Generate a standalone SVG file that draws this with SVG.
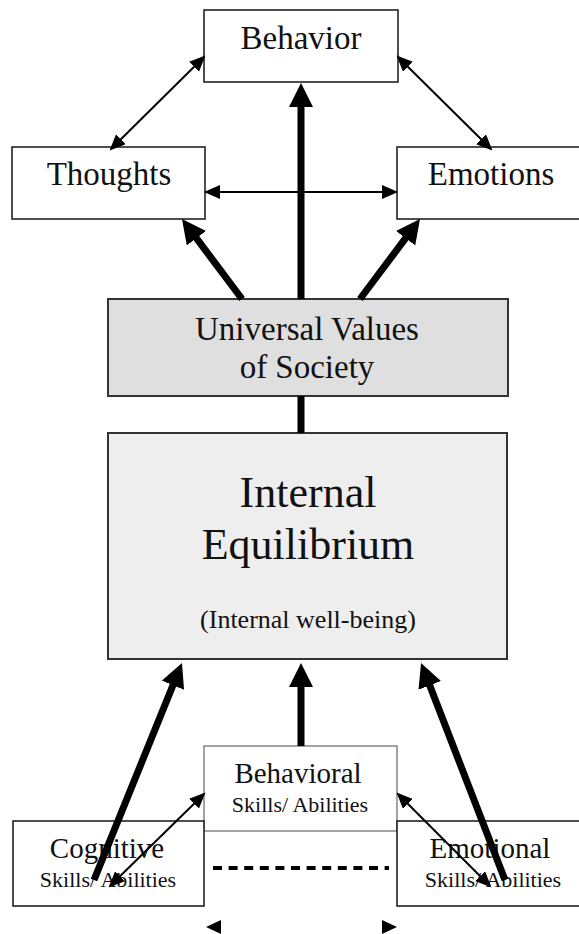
<svg xmlns="http://www.w3.org/2000/svg" width="579" height="934" viewBox="0 0 579 934">
<style>
text{font-family:"Liberation Serif","Times New Roman",serif;fill:#111;text-anchor:middle}
.box{fill:#fff;stroke:#222;stroke-width:1.6}
.grey{fill:#dfdfdf;stroke:#333;stroke-width:2}
.light{fill:#eeeeee;stroke:#333;stroke-width:2}
.soft{fill:#fff;stroke:#666;stroke-width:1.2}
.t33{font-size:33px}
.t44{font-size:44px}
.t26{font-size:26px}
.t29{font-size:29px}
.t22{font-size:22px}
.thick{stroke:#000;stroke-width:7;fill:none}
.thin{stroke:#000;stroke-width:2;fill:none}
</style>
<defs>
<marker id="big" markerUnits="userSpaceOnUse" markerWidth="26" markerHeight="26" refX="10" refY="12" orient="auto">
<path d="M0,0 L24,12 L0,24 Z" fill="#000"/>
</marker>
<marker id="small" markerUnits="userSpaceOnUse" markerWidth="18" markerHeight="16" refX="14" refY="7" orient="auto-start-reverse">
<path d="M0,0 L16,7 L0,14 Z" fill="#000"/>
</marker>
</defs>

<g id="behavior">
<rect class="box" x="204" y="10" width="194" height="72"/>
<text class="t33" x="301" y="49">Behavior</text>
</g>
<g id="thoughts">
<rect class="box" x="12" y="147" width="193" height="72"/>
<text class="t33" x="109" y="185">Thoughts</text>
</g>
<g id="emotions">
<rect class="box" x="397" y="147" width="190" height="72"/>
<text class="t33" x="491" y="185">Emotions</text>
</g>
<g id="universal-values">
<rect class="grey" x="108" y="299" width="400" height="97"/>
<text class="t33" x="307" y="340">Universal Values</text>
<text class="t33" x="307" y="378">of Society</text>
</g>
<g id="internal-equilibrium">
<rect class="light" x="108" y="433" width="399" height="226"/>
<text class="t44" x="308" y="507">Internal</text>
<text class="t44" x="308" y="559">Equilibrium</text>
<text class="t26" x="308" y="628">(Internal well-being)</text>
</g>
<g id="behavioral">
<rect class="soft" x="204" y="746" width="193" height="85"/>
<text class="t29" x="298" y="783">Behavioral</text>
<text class="t22" x="300" y="812">Skills/ Abilities</text>
</g>
<g id="cognitive">
<rect class="box" x="13" y="821" width="191" height="85" stroke-width="2"/>
<text class="t29" x="107" y="858">Cognitive</text>
<text class="t22" x="108" y="887">Skills/ Abilities</text>
</g>
<g id="emotional">
<rect class="box" x="397" y="821" width="190" height="85" stroke-width="2"/>
<text class="t29" x="490" y="858">Emotional</text>
<text class="t22" x="493" y="887">Skills/ Abilities</text>
</g>

<g id="connectors">
<line class="thin" x1="111" y1="149" x2="204" y2="57" marker-start="url(#small)" marker-end="url(#small)"/>
<line class="thin" x1="398" y1="57" x2="491" y2="149" marker-start="url(#small)" marker-end="url(#small)"/>
<line class="thin" x1="206" y1="192" x2="396" y2="192" stroke-width="2.5" marker-start="url(#small)" marker-end="url(#small)"/>
<line class="thick" x1="301" y1="299" x2="301" y2="97" marker-end="url(#big)"/>
<line class="thick" x1="242" y1="299" x2="190.4" y2="230.2" marker-end="url(#big)"/>
<line class="thick" x1="360" y1="299" x2="411.6" y2="230.2" marker-end="url(#big)"/>
<line class="thick" x1="301" y1="396" x2="301" y2="433"/>
<line class="thick" x1="94" y1="880" x2="176.7" y2="676" marker-end="url(#big)"/>
<line class="thick" x1="505" y1="880" x2="426.1" y2="676.1" marker-end="url(#big)"/>
<line class="thick" x1="301" y1="746" x2="301" y2="677" marker-end="url(#big)"/>
<line class="thin" x1="110" y1="886" x2="204" y2="794" marker-start="url(#small)" marker-end="url(#small)"/>
<line class="thin" x1="398" y1="794" x2="490" y2="886" marker-start="url(#small)" marker-end="url(#small)"/>
<line x1="213" y1="868" x2="389" y2="868" stroke="#000" stroke-width="4" stroke-dasharray="9,6.6"/>
<polygon points="206,927 221,920 221,934" fill="#000"/>
<polygon points="397,927 382,920 382,934" fill="#000"/>
</g>
</svg>
